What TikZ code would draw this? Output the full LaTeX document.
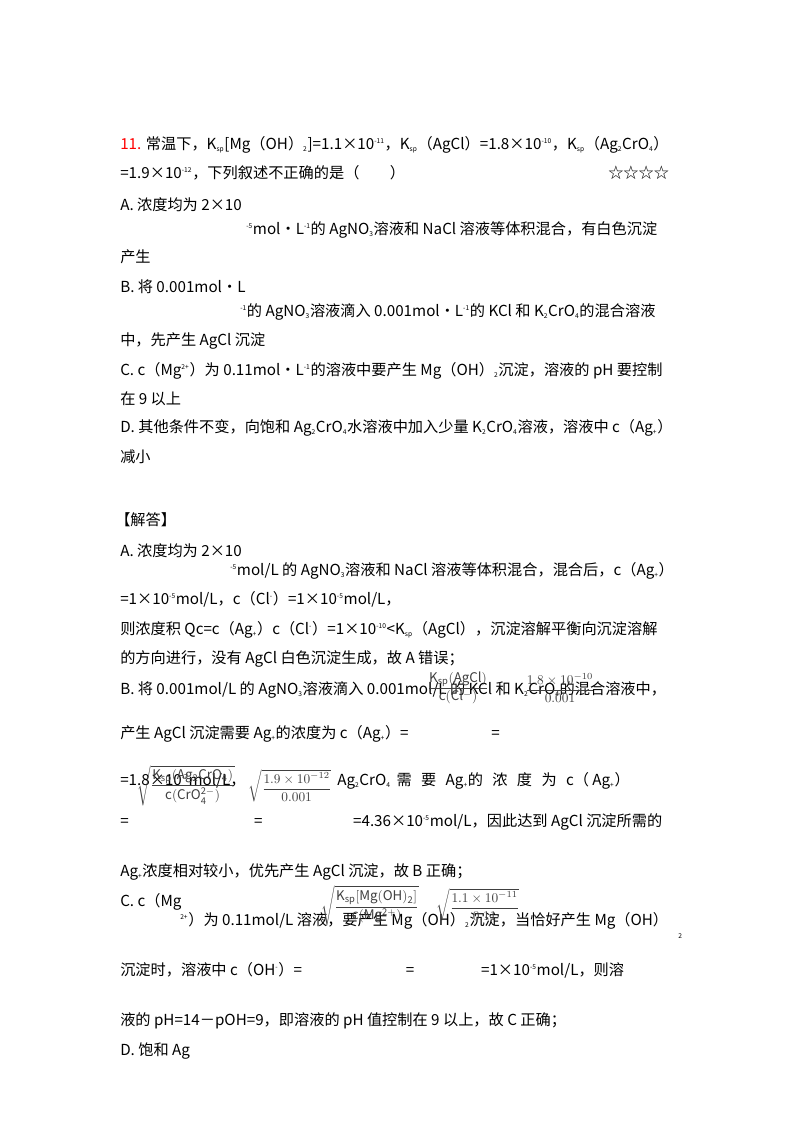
\documentclass[tikz,border=0pt]{standalone}
\usepackage{amsmath}
\usepackage{fontspec}
\setmainfont{Noto Sans CJK SC}
\newcommand{\dn}[1]{\textsubscript{\tiny #1}}
\newcommand{\up}[1]{\textsuperscript{\tiny #1}}
\begin{document}
\begin{tikzpicture}[x=0.75pt,y=-0.75pt,
  t/.style={anchor=base west,inner sep=0pt,font=\fontsize{11.4}{13}\selectfont},
  f/.style={anchor=center,inner sep=0pt,font=\fontsize{10}{11}\selectfont,text=black!75}]
\useasboundingbox (0,0) rectangle (800,1132);
\fill[white] (0,0) rectangle (800,1132);
\node[t] (l1) at (120,149) {\textcolor{red}{11.} 常温下，K\dn{sp}[Mg（OH）\dn{2}]=1.1×10\up{-11}，K\dn{sp}（AgCl）=1.8×10\up{-10}，K\dn{sp}（Ag\dn{2}CrO\dn{4}）};
\node[t] (l2) at (120,178) {=1.9×10\up{-12}，下列叙述不正确的是（\quad\quad）};
\node[t] (stars) at (608,178) {☆☆☆☆};
\node[t] (l3) at (120,210) {A. 浓度均为 2×10};
\node[t] (l4) at (246,234) {\up{-5}mol•L\up{-1}的 AgNO\dn{3}溶液和 NaCl 溶液等体积混合，有白色沉淀};
\node[t] (l5) at (120,262) {产生};
\node[t] (l6) at (120,292) {B. 将 0.001mol•L};
\node[t] (l7) at (240,316) {\up{-1}的 AgNO\dn{3}溶液滴入 0.001mol•L\up{-1}的 KCl 和 K\dn{2}CrO\dn{4}的混合溶液};
\node[t] (l8) at (120,345) {中，先产生 AgCl 沉淀};
\node[t] (l9) at (120,375) {C. c（Mg\up{2+}）为 0.11mol•L\up{-1}的溶液中要产生 Mg（OH）\dn{2}沉淀，溶液的 pH 要控制};
\node[t] (l10) at (120,404) {在 9 以上};
\node[t] (l11) at (120,432) {D. 其他条件不变，向饱和 Ag\dn{2}CrO\dn{4}水溶液中加入少量 K\dn{2}CrO\dn{4}溶液，溶液中 c（Ag\dn{+}）};
\node[t] (l12) at (120,462) {减小};
\node[t] (h) at (115,525) {【解答】};
\node[t] (s1) at (120,556) {A. 浓度均为 2×10};
\node[t] (s2) at (230,575) {\up{-5}mol/L 的 AgNO\dn{3}溶液和 NaCl 溶液等体积混合，混合后，c（Ag\dn{+}）};
\node[t] (s3) at (120,604) {=1×10\up{-5}mol/L，c（Cl\up{-}）=1×10\up{-5}mol/L，};
\node[t] (s4) at (120,634) {则浓度积 Qc=c（Ag\dn{+}）c（Cl\up{-}）=1×10\up{-10}<K\dn{sp}（AgCl），沉淀溶解平衡向沉淀溶解};
\node[t] (s5) at (120,663) {的方向进行，没有 AgCl 白色沉淀生成，故 A 错误；};
\node[t] (s6) at (120,694) {B. 将 0.001mol/L 的 AgNO\dn{3}溶液滴入 0.001mol/L 的 KCl 和 K\dn{2}CrO\dn{4}的混合溶液中，};
\node[f] (fr1) at (458,688) {$\dfrac{\mathrm{K_{sp}(AgCl)}}{\mathrm{c(Cl^-)}}$};
\node[f] (fr2) at (560,688) {$\dfrac{1.8\times10^{-10}}{0.001}$};
\node[t] (s7) at (120,738) {产生 AgCl 沉淀需要 Ag\dn{+}的浓度为 c（Ag\dn{+}）=\hspace{62pt}=};
\node[t] (s8) at (120,785) {=1.8×10\up{-7}mol/L，};
\node[f] (fr3) at (186,786) {$\sqrt{\dfrac{\mathrm{K_{sp}(Ag_2CrO_4)}}{\mathrm{c(CrO_4^{2-})}}}$};
\node[f] (fr4) at (290,786) {$\sqrt{\dfrac{1.9\times10^{-12}}{0.001}}$};
\node[t] (s9) at (337,785) {Ag\dn{2}CrO\dn{4}\, 需 \, 要 \, Ag\dn{+}的 \, 浓 \, 度 \, 为 \, c（ Ag\dn{+}）};
\node[t] (s10) at (120,826) {=\hspace{94pt}=\hspace{68pt}=4.36×10\up{-5}mol/L，因此达到 AgCl 沉淀所需的};
\node[t] (s11) at (120,876) {Ag\dn{+}浓度相对较小，优先产生 AgCl 沉淀，故 B 正确；};
\node[t] (s12) at (120,906) {C. c（Mg};
\node[t] (s13) at (180,925) {\up{2+}）为 0.11mol/L 溶液，要产生 Mg（OH）\dn{2}沉淀，当恰好产生 Mg（OH）};
\node[t] (s14) at (678,938) {\tiny 2};
\node[f] (fr5) at (370,906) {$\sqrt{\dfrac{\mathrm{K_{sp}[Mg(OH)_2]}}{\mathrm{c(Mg^{2+})}}}$};
\node[f] (fr6) at (478,905) {$\sqrt{\dfrac{1.1\times10^{-11}}{0.11}}$};
\node[t] (s15) at (120,975) {沉淀时，溶液中 c（OH\up{-}）=\hspace{78pt}=\hspace{50pt}=1×10\up{-5}mol/L，则溶};
\node[t] (s16) at (120,1025) {液的 pH=14－pOH=9，即溶液的 pH 值控制在 9 以上，故 C 正确；};
\node[t] (s17) at (120,1055) {D. 饱和 Ag};
\end{tikzpicture}
\end{document}
